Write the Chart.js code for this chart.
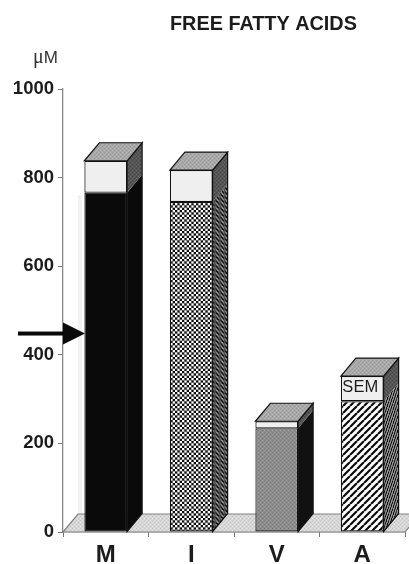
<!DOCTYPE html>
<html><head><meta charset="utf-8">
<style>html,body{margin:0;padding:0;background:#fff}#w{width:409px;height:564px;position:relative}canvas{filter:blur(0.45px)}</style>
<script src="https://cdn.jsdelivr.net/npm/chart.js@4"></script>
</head><body><div id="w"><canvas id="c"></canvas></div>
<script>
const categories = ["M", "I", "V", "A"];
const meanValues = [766, 745, 234, 295];
const semValues = [72, 72, 16, 57];
const yTicks = [0, 200, 400, 600, 800, 1000];
const arrowValue = 448;
const chartTitle = "FREE FATTY ACIDS";
const unitMu = "μ";
const unitM = "M";
const semLabel = "SEM";

const DX = 15, DY = 18;
const FONT = '"Liberation Sans", Arial, sans-serif';

function tile(w, h, draw) {
  const t = document.createElement('canvas');
  t.width = w; t.height = h;
  draw(t.getContext('2d'));
  return document.createElement('canvas').getContext('2d').createPattern(t, 'repeat');
}
function stipple(base, speck, speck2) {
  return tile(4, 4, g => {
    g.fillStyle = base; g.fillRect(0, 0, 4, 4);
    g.fillStyle = speck; g.fillRect(0, 0, 1, 1); g.fillRect(2, 2, 1, 1);
    g.fillStyle = speck2; g.fillRect(2, 0, 1, 1); g.fillRect(0, 2, 1, 1);
  });
}
function makeChecks() {
  return tile(14, 14, g => {
    const p = 14 / 3, c = p / 2;
    g.fillStyle = '#0c0c0c'; g.fillRect(0, 0, 14, 14);
    g.fillStyle = '#fff';
    for (let r = 0; r < 3; r++) for (let q = 0; q < 3; q++) {
      g.fillRect(q * p, r * p, c, c);
      g.fillRect(q * p + c, r * p + c, c, c);
    }
  });
}
function makeHatch() {
  return tile(7, 7, g => {
    g.fillStyle = '#fff'; g.fillRect(0, 0, 7, 7);
    g.strokeStyle = '#0c0c0c'; g.lineWidth = 2.2;
    g.beginPath();
    for (let i = -7; i <= 14; i += 7) { g.moveTo(i, 7); g.lineTo(i + 7, 0); }
    g.stroke();
  });
}
function skewed(p) {
  p.setTransform(new DOMMatrix([0.55, -0.66, 0, 1, 0, 0]));
  return p;
}
const greyFront = stipple('#8c8c8c', '#767676', '#a0a0a0');
const greyTop = stipple('#a8a8a8', '#949494', '#bcbcbc');
const floorFill = stipple('#d6d6d6', '#c4c4c4', '#e6e6e6');
const greySide = stipple('#555', '#444', '#666');
const meanFills = ['#0a0a0a', makeChecks(), greyFront, makeHatch()];
const sideFills = ['#0a0a0a', skewed(makeChecks()), '#111', skewed(makeHatch())];

const stroke = '#121212';
function poly(ctx, pts, fill, line) {
  ctx.beginPath();
  pts.forEach((p, i) => i ? ctx.lineTo(p[0], p[1]) : ctx.moveTo(p[0], p[1]));
  ctx.closePath();
  if (fill) { ctx.fillStyle = fill; ctx.fill(); }
  if (line) { ctx.strokeStyle = line; ctx.lineWidth = 1.2; ctx.stroke(); }
}

const scene = {
  id: 'scene',
  beforeDatasetsDraw(chart) {
    const { ctx, chartArea: a, scales: { y } } = chart;
    const y0 = y.getPixelForValue(0);
    ctx.save();
    ctx.strokeStyle = '#f2f2f2'; ctx.lineWidth = 4;
    ctx.beginPath(); ctx.moveTo(a.left + DX + 2, y0 - DY); ctx.lineTo(a.left + DX + 2, y.getPixelForValue(760)); ctx.stroke();
    poly(ctx, [[a.left, y0], [a.right, y0], [a.right + DX, y0 - DY], [a.left + DX, y0 - DY]], floorFill, '#808080');
    ctx.restore();
  },
  afterDatasetsDraw(chart) {
    const { ctx, scales: { y } } = chart;
    const lo = chart.getDatasetMeta(0).data, hi = chart.getDatasetMeta(1).data;
    ctx.save();
    lo.forEach((b, i) => {
      const t = hi[i];
      const L = b.x - b.width / 2, R = b.x + b.width / 2;
      const y0 = b.base, ym = b.y, yt = t.y;
      const sidePts = [[R, y0], [R + DX, y0 - DY], [R + DX, ym - DY], [R, ym]];
      poly(ctx, sidePts, sideFills[i], null);
      if (i === 1 || i === 3) poly(ctx, sidePts, 'rgba(0,0,0,0.4)', null);
      poly(ctx, [[R, ym], [R + DX, ym - DY], [R + DX, yt - DY], [R, yt]], greySide, null);
      poly(ctx, [[R, y0], [R + DX, y0 - DY], [R + DX, yt - DY], [R, yt]], null, stroke);
      poly(ctx, [[L, yt], [R, yt], [R + DX, yt - DY], [L + DX, yt - DY]], greyTop, stroke);
    });
    const last = hi[hi.length - 1];
    ctx.fillStyle = '#1c1c1c';
    ctx.font = '16.5px ' + FONT;
    ctx.textAlign = 'center'; ctx.textBaseline = 'middle';
    ctx.fillText(semLabel, last.x - 2, last.y + 11);

    const ay = y.getPixelForValue(arrowValue);
    ctx.fillStyle = '#0a0a0a';
    ctx.fillRect(18, ay - 2, 47, 4);
    poly(ctx, [[63, ay - 11], [85, ay], [63, ay + 11]], '#0a0a0a', null);

    ctx.fillStyle = '#1c1c1c';
    ctx.textAlign = 'left'; ctx.textBaseline = 'alphabetic';
    ctx.font = 'bold 14.5px ' + FONT;
    ctx.font = 'bold ' + (14.5 * 187 / ctx.measureText(chartTitle).width) + 'px ' + FONT;
    ctx.fillText(chartTitle, 170, 30);
    ctx.fillStyle = '#333';
    ctx.font = '20px "Liberation Serif", serif';
    ctx.fillText(unitMu, 33, 63);
    const w = ctx.measureText(unitMu).width;
    ctx.font = '17px ' + FONT;
    ctx.fillText(unitM, 33 + w, 63);
    ctx.restore();
  }
};

new Chart(document.getElementById('c'), {
  type: 'bar',
  data: {
    labels: categories,
    datasets: [
      { data: meanValues, backgroundColor: meanFills, borderColor: stroke, borderWidth: 1.2, borderSkipped: false },
      { data: semValues, backgroundColor: '#efefef', borderColor: stroke, borderWidth: 1.2, borderSkipped: false }
    ]
  },
  options: {
    responsive: true, maintainAspectRatio: false, animation: false,
    layout: { padding: { top: 89, right: 4, left: 0, bottom: 0 } },
    plugins: { legend: { display: false }, tooltip: { enabled: false } },
    datasets: { bar: { barPercentage: 1, categoryPercentage: 0.5 } },
    scales: {
      x: {
        stacked: true,
        afterFit(s) { s.height = 32; },
        grid: { drawOnChartArea: false, color: '#777', tickLength: 5 },
        border: { color: '#777', width: 1.3 },
        ticks: { color: '#1c1c1c', padding: 4, font: { family: FONT, size: 24, weight: 'bold' } }
      },
      y: {
        stacked: true, min: 0, max: 1000,
        afterFit(s) { s.width = 63; },
        afterBuildTicks(s) { s.ticks = yTicks.map(v => ({ value: v })); },
        grid: { drawOnChartArea: false, color: '#777', tickLength: 5 },
        border: { color: '#888', width: 1.3 },
        ticks: { color: '#1c1c1c', padding: 4, callback: v => String(v), font: { family: FONT, size: 18.5, weight: 'bold' } }
      }
    }
  },
  plugins: [scene]
});
</script></body></html>
